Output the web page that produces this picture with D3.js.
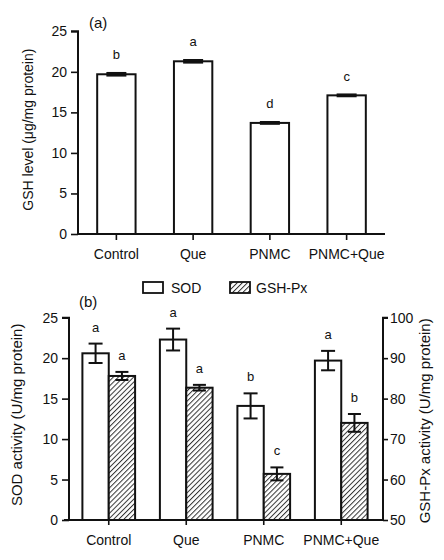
<!DOCTYPE html>
<html>
<head>
<meta charset="utf-8">
<script src="https://cdn.jsdelivr.net/npm/d3@7"></script>
<style>
  html, body { margin: 0; padding: 0; background: #fff; }
  svg { display: block; font-family: "Liberation Sans", Arial, sans-serif; }
</style>
</head>
<body>
<svg id="chart" width="444" height="560"></svg>
<script>
// ---------- data ----------
const categories = ["Control", "Que", "PNMC", "PNMC+Que"];
const gshLevel = [19.7, 21.3, 13.7, 17.1];
const gshErr = [0.15, 0.15, 0.1, 0.1];
const gshLetters = ["b", "a", "d", "c"];

const sodActivity = [20.6, 22.3, 14.1, 19.7];
const sodErr = [1.2, 1.35, 1.55, 1.2];
const sodLetters = ["a", "a", "b", "a"];

const gpxActivity = [85.6, 82.7, 61.4, 74.0];
const gpxErr = [1.0, 0.7, 1.6, 2.2];
const gpxLetters = ["a", "a", "c", "b"];

const leftTicksA = [0, 5, 10, 15, 20, 25];
const leftTicksB = [0, 5, 10, 15, 20, 25];
const rightTicksB = [50, 60, 70, 80, 90, 100];
const seriesNames = ["SOD", "GSH-Px"];

// ---------- setup ----------
const svg = d3.select("#chart");
const defs = svg.append("defs");
const pat = defs.append("pattern")
  .attr("id", "hatch").attr("patternUnits", "userSpaceOnUse")
  .attr("width", 3.6).attr("height", 3.6)
  .attr("patternTransform", "rotate(45)");
pat.append("rect").attr("width", 3.6).attr("height", 3.6).attr("fill", "#fff");
pat.append("line").attr("x1", 0).attr("y1", 0).attr("x2", 0).attr("y2", 3.6)
  .attr("stroke", "#333").attr("stroke-width", 2);

function styleAxis(g, fs) {
  g.selectAll(".domain").attr("stroke", "#111").attr("stroke-width", 2);
  g.selectAll(".tick line").attr("stroke", "#111").attr("stroke-width", 1.6);
  g.selectAll(".tick text").attr("fill", "#111").style("font-size", fs + "px")
    .style("font-family", '"Liberation Sans", Arial, sans-serif');
}

// ================= Panel (a) =================
const aLeft = 78, aRight = 385, aTop = 31.3, aBottom = 234;
const xA = d3.scaleBand().domain(categories).range([aLeft, aRight]).paddingInner(0.5).paddingOuter(0.25);
const yA = d3.scaleLinear().domain([0, 25]).range([aBottom, aTop]);

const gA = svg.append("g");
gA.selectAll("rect.bar").data(categories).enter().append("rect")
  .attr("class", "bar")
  .attr("x", d => xA(d))
  .attr("y", (d, i) => yA(gshLevel[i]))
  .attr("width", xA.bandwidth())
  .attr("height", (d, i) => aBottom - yA(gshLevel[i]))
  .attr("fill", "#fff").attr("stroke", "#111").attr("stroke-width", 2);

// error bars (a)
categories.forEach((c, i) => {
  const cx = xA(c) + xA.bandwidth() / 2;
  const hi = yA(gshLevel[i] + gshErr[i]), lo = yA(gshLevel[i] - gshErr[i]);
  gA.append("line").attr("x1", cx).attr("x2", cx).attr("y1", hi).attr("y2", lo)
    .attr("stroke", "#111").attr("stroke-width", 2);
  [hi, lo].forEach(yy => gA.append("line").attr("x1", cx - 10).attr("x2", cx + 10)
    .attr("y1", yy).attr("y2", yy).attr("stroke", "#111").attr("stroke-width", 2.2));
  gA.append("text").attr("x", cx).attr("y", hi - 14).attr("text-anchor", "middle")
    .style("font-size", "13px").attr("fill", "#111").text(gshLetters[i]);
});

const axA = gA.append("g").attr("transform", `translate(${aLeft},0)`)
  .call(d3.axisLeft(yA).tickValues(leftTicksA).tickSize(7).tickPadding(4).tickFormat(d3.format("d")));
styleAxis(axA, 14);
axA.select(".domain").attr("d", `M-7,${aTop}H0V${aBottom}`);

const axAx = gA.append("g").attr("transform", `translate(0,${aBottom})`)
  .call(d3.axisBottom(xA).tickSize(6).tickPadding(9));
styleAxis(axAx, 14);
axAx.select(".domain").attr("d", `M${aLeft},0H${aRight}`);

gA.append("text").attr("transform", `translate(29,${(aTop + aBottom) / 2 - 3}) rotate(-90)`)
  .attr("text-anchor", "middle").attr("dominant-baseline", "middle")
  .style("font-size", "14px").attr("fill", "#111").text("GSH level (μg/mg protein)");
gA.append("text").attr("x", 89).attr("y", 28).style("font-size", "15px").attr("fill", "#111").text("(a)");

// ================= Panel (b) =================
const bLeft = 69, bRight = 383, bTop = 317.7, bBottom = 520;
const xB = d3.scaleBand().domain(categories).range([70, 380]).paddingInner(0.32).paddingOuter(0.16);
const xSub = d3.scaleBand().domain(seriesNames).range([0, xB.bandwidth()]);
const yL = d3.scaleLinear().domain([0, 25]).range([bBottom, bTop]);
const yR = d3.scaleLinear().domain([50, 100]).range([bBottom, bTop]);

const gB = svg.append("g");
const groups = gB.selectAll("g.grp").data(categories).enter().append("g")
  .attr("transform", d => `translate(${xB(d)},0)`);

groups.append("rect")
  .attr("x", xSub("SOD")).attr("width", xSub.bandwidth())
  .attr("y", (d, i) => yL(sodActivity[i]))
  .attr("height", (d, i) => bBottom - yL(sodActivity[i]))
  .attr("fill", "#fff").attr("stroke", "#111").attr("stroke-width", 2);
groups.append("rect")
  .attr("x", xSub("GSH-Px")).attr("width", xSub.bandwidth())
  .attr("y", (d, i) => yR(gpxActivity[i]))
  .attr("height", (d, i) => bBottom - yR(gpxActivity[i]))
  .attr("fill", "url(#hatch)").attr("stroke", "#111").attr("stroke-width", 2);

function errBar(g, cx, yHi, yLo, cap) {
  g.append("line").attr("x1", cx).attr("x2", cx).attr("y1", yHi).attr("y2", yLo)
    .attr("stroke", "#111").attr("stroke-width", 2);
  [yHi, yLo].forEach(yy => g.append("line").attr("x1", cx - cap).attr("x2", cx + cap)
    .attr("y1", yy).attr("y2", yy).attr("stroke", "#111").attr("stroke-width", 2));
}
categories.forEach((c, i) => {
  const sx = xB(c) + xSub("SOD") + xSub.bandwidth() / 2;
  const gx = xB(c) + xSub("GSH-Px") + xSub.bandwidth() / 2;
  const sHi = yL(sodActivity[i] + sodErr[i]), sLo = yL(sodActivity[i] - sodErr[i]);
  const gHi = yR(gpxActivity[i] + gpxErr[i]), gLo = yR(gpxActivity[i] - gpxErr[i]);
  errBar(gB, sx, sHi, sLo, 7);
  errBar(gB, gx, gHi, gLo, 6.5);
  gB.append("text").attr("x", sx).attr("y", sHi - 12).attr("text-anchor", "middle")
    .style("font-size", "13px").attr("fill", "#111").text(sodLetters[i]);
  gB.append("text").attr("x", gx).attr("y", gHi - 12).attr("text-anchor", "middle")
    .style("font-size", "13px").attr("fill", "#111").text(gpxLetters[i]);
});

const axBL = gB.append("g").attr("transform", `translate(${bLeft},0)`)
  .call(d3.axisLeft(yL).tickValues(leftTicksB).tickSize(7).tickPadding(4).tickFormat(d3.format("d")));
styleAxis(axBL, 14);
axBL.select(".domain").attr("d", `M-7,${bTop}H0V${bBottom}`);

const axBR = gB.append("g").attr("transform", `translate(${bRight},0)`)
  .call(d3.axisRight(yR).tickValues(rightTicksB).tickSize(5).tickPadding(2).tickFormat(d3.format("d")));
styleAxis(axBR, 14);
axBR.select(".domain").attr("d", `M5,${bTop}H0V${bBottom}`);

const axBx = gB.append("g").attr("transform", `translate(0,${bBottom})`)
  .call(d3.axisBottom(xB).tickSize(5).tickPadding(10));
styleAxis(axBx, 14);
axBx.select(".domain").attr("d", `M${bLeft - 5},0H${bRight}`);

gB.append("text").attr("transform", `translate(18,${(bTop + bBottom) / 2 - 4}) rotate(-90)`)
  .attr("text-anchor", "middle").attr("dominant-baseline", "middle")
  .style("font-size", "15px").attr("fill", "#111").text("SOD activity (U/mg protein)");
gB.append("text").attr("transform", `translate(426,${(bTop + bBottom) / 2 + 2}) rotate(-90)`)
  .attr("text-anchor", "middle").attr("dominant-baseline", "middle")
  .style("font-size", "15px").attr("fill", "#111").text("GSH-Px activity (U/mg protein)");
gB.append("text").attr("x", 79).attr("y", 307).style("font-size", "15px").attr("fill", "#111").text("(b)");

// legend
const legend = gB.append("g");
const legX = [143, 230], legTextX = [171, 256];
seriesNames.forEach((s, i) => {
  legend.append("rect").attr("x", legX[i]).attr("y", 282).attr("width", 20).attr("height", 11)
    .attr("fill", i === 0 ? "#fff" : "url(#hatch)").attr("stroke", "#111").attr("stroke-width", 1.8);
  legend.append("text").attr("x", legTextX[i]).attr("y", 292.5)
    .style("font-size", "14px").attr("fill", "#111").text(s);
});
</script>
</body>
</html>
